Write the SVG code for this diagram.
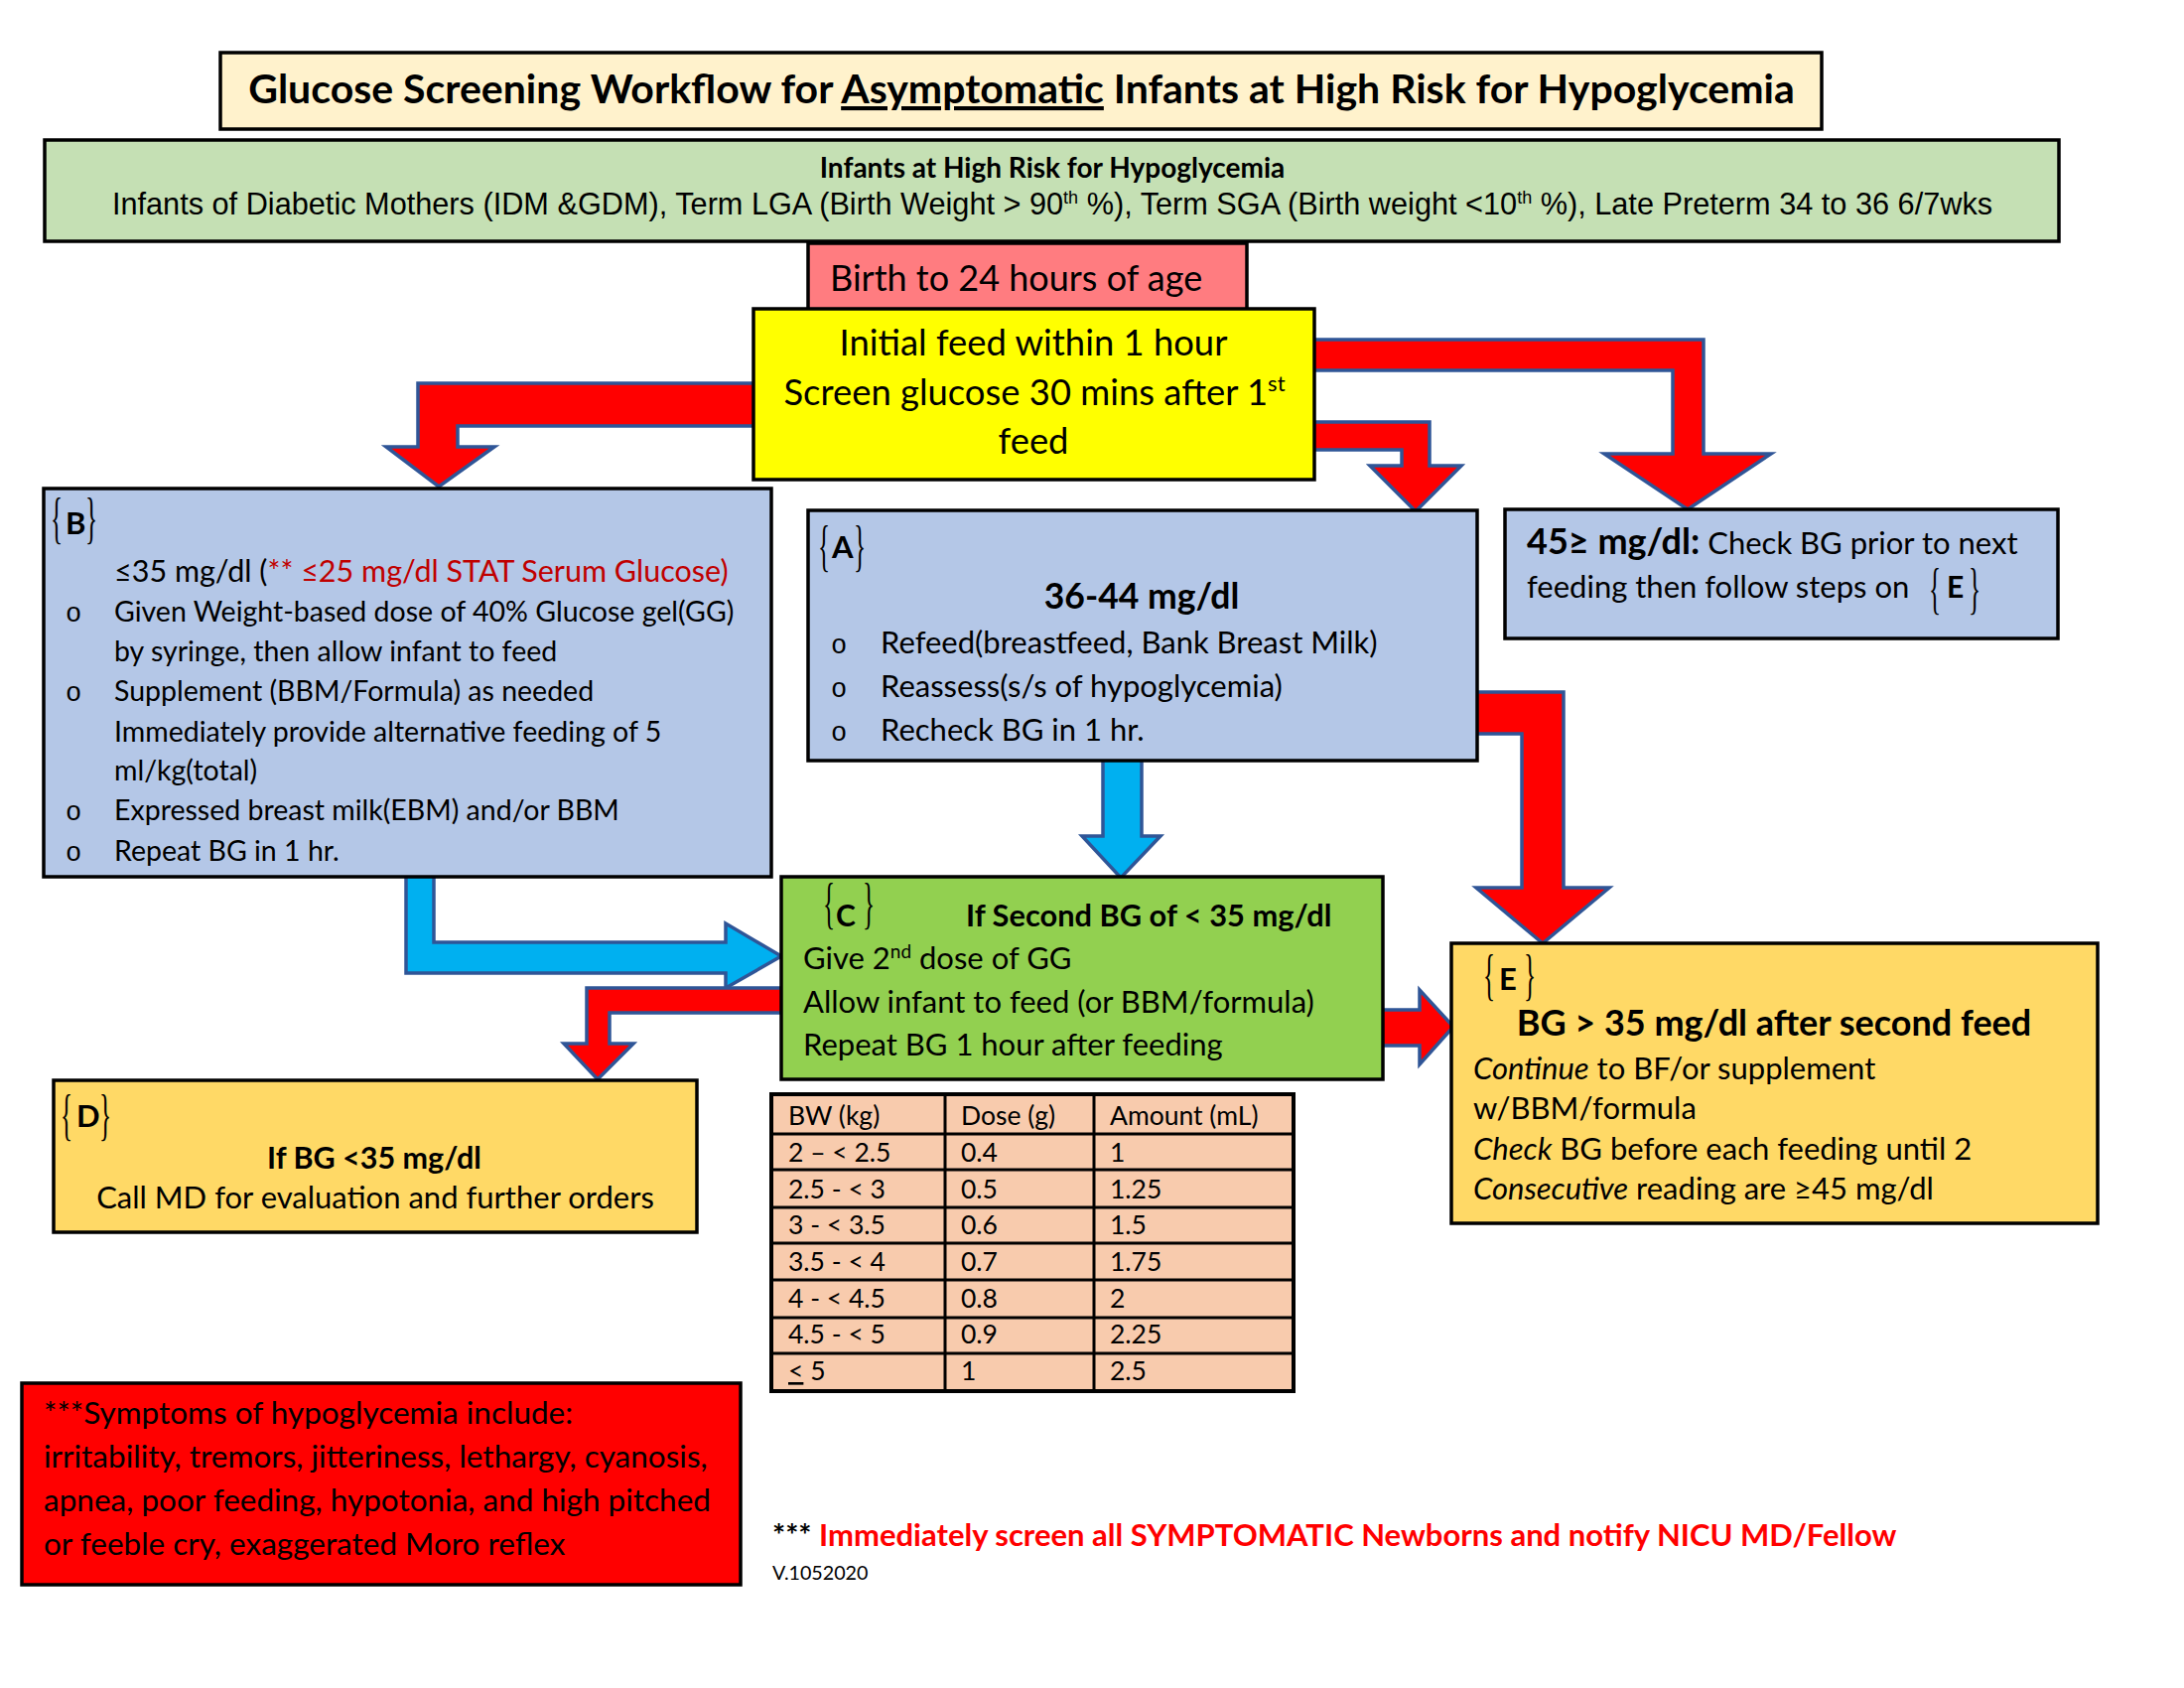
<svg xmlns="http://www.w3.org/2000/svg" width="2200" height="1700" viewBox="0 0 2200 1700">
<style>
.box{stroke:#000;stroke-width:3.5}
.red{fill:#FF0000;stroke:#2F5597;stroke-width:3.5;stroke-linejoin:miter}
.blue{fill:#00B0F0;stroke:#2F5597;stroke-width:3.5;stroke-linejoin:miter}
text{font-family:Lato,"Liberation Sans",sans-serif;fill:#000}
.b{font-weight:bold}
.bodyB{font-size:28.5px}
.body{font-size:31px}
.bul{font-family:"Liberation Mono",monospace;font-size:27px;text-anchor:middle}
.br{font-family:"Liberation Serif",serif;font-size:56px;font-weight:normal}
.tb{font-size:26.5px}
.mid{text-anchor:middle}
</style>
<rect width="2200" height="1700" fill="#fff"/>
<g id="connectors">
<polygon class="red" points="765,386 421,386 421,450 389,450 442,490 498,450 461,450 461,429 765,429"/>
<polygon class="red" points="1318,425 1440,425 1440,469 1472,469 1426,515 1380,469 1412,469 1412,453 1318,453"/>
<polygon class="red" points="1318,342 1716,342 1716,457 1784,457 1700,513 1616,457 1685,457 1685,373 1318,373"/>
<polygon class="red" points="1482,697 1575,697 1575,894 1621,894 1554,950 1487,894 1533,894 1533,739 1482,739"/>
<polygon class="blue" points="1111,762 1150,762 1150,842 1169,842 1129,884 1090,842 1111,842"/>
<polygon class="blue" points="409,878 437,878 437,949 731,949 731,930 787,963 731,995 731,980 409,980"/>
<polygon class="red" points="792,995 591,995 591,1051 568,1051 602,1087 638,1051 614,1051 614,1020 792,1020"/>
<polygon class="red" points="1388,1017 1430,1017 1430,997 1464,1034 1430,1072 1430,1053 1388,1053"/>
</g>
<g id="title">
<rect class="box" x="222" y="53" width="1613" height="77" fill="#FFF2CC"/>
<text class="b mid" x="1029" y="104" font-size="41">Glucose Screening Workflow for <tspan text-decoration="underline">Asymptomatic</tspan> Infants at High Risk for Hypoglycemia</text>
</g>
<g id="risk">
<rect class="box" x="45" y="141" width="2029" height="102" fill="#C5E0B4"/>
<text class="b mid" x="1060" y="179" font-size="28">Infants at High Risk for Hypoglycemia</text>
<text class="mid" x="1060" y="216" font-size="30.7" style="font-family:'Liberation Sans',Arial,sans-serif">Infants of Diabetic Mothers (IDM &amp;GDM), Term LGA (Birth Weight &gt; 90<tspan font-size="18" dy="-11">th</tspan><tspan dy="11"> %), Term SGA (Birth weight &lt;10</tspan><tspan font-size="18" dy="-11">th</tspan><tspan dy="11"> %), Late Preterm 34 to 36 6/7wks</tspan></text>
</g>
<g id="age">
<rect class="box" x="814" y="245" width="442" height="70" fill="#FF7C80"/>
<text x="836" y="293" font-size="36">Birth to 24 hours of age</text>
</g>
<g id="initial">
<rect class="box" x="759" y="311" width="565" height="172" fill="#FFFF00"/>
<text class="mid" x="1041" y="358" font-size="36.4">Initial feed within 1 hour</text>
<text class="mid" x="1042" y="408" font-size="36.4">Screen glucose 30 mins after 1<tspan font-size="22" dy="-14">st</tspan></text>
<text class="mid" x="1041" y="457" font-size="36.4">feed</text>
</g>
<g id="nodeB">
<rect class="box" x="44" y="492" width="733" height="391" fill="#B4C7E7"/>
<text class="br" transform="translate(57,541) scale(0.45,1)" text-anchor="middle">{</text>
<text class="b" x="66" y="538" font-size="31">B</text>
<text class="br" transform="translate(92,541) scale(0.45,1)" text-anchor="middle">}</text>
<text x="115" y="586" font-size="30.5">≤35 mg/dl (<tspan fill="#C00000">** ≤25 mg/dl STAT Serum Glucose)</tspan></text>
<text class="bul" x="74" y="626">o</text>
<text class="bodyB" x="115" y="626">Given Weight-based dose of 40% Glucose gel(GG)</text>
<text class="bodyB" x="115" y="666">by syringe, then allow infant to feed</text>
<text class="bul" x="74" y="706">o</text>
<text class="bodyB" x="115" y="706">Supplement (BBM/Formula) as needed</text>
<text class="bodyB" x="115" y="747">Immediately provide alternative feeding of 5</text>
<text class="bodyB" x="115" y="786">ml/kg(total)</text>
<text class="bul" x="74" y="826">o</text>
<text class="bodyB" x="115" y="826">Expressed breast milk(EBM) and/or BBM</text>
<text class="bul" x="74" y="867">o</text>
<text class="bodyB" x="115" y="867">Repeat BG in 1 hr.</text>
</g>
<g id="nodeA">
<rect class="box" x="814" y="514" width="674" height="252" fill="#B4C7E7"/>
<text class="br" transform="translate(830,569) scale(0.45,1)" text-anchor="middle">{</text>
<text class="b" x="838" y="562" font-size="31">A</text>
<text class="br" transform="translate(866,569) scale(0.45,1)" text-anchor="middle">}</text>
<text class="b mid" x="1150" y="613" font-size="35.5">36-44 mg/dl</text>
<text class="bul" x="845" y="658">o</text>
<text class="body" x="887" y="658">Refeed(breastfeed, Bank Breast Milk)</text>
<text class="bul" x="845" y="702">o</text>
<text class="body" x="887" y="702">Reassess(s/s of hypoglycemia)</text>
<text class="bul" x="845" y="746">o</text>
<text class="body" x="887" y="746">Recheck BG in 1 hr.</text>
</g>
<g id="node45">
<rect class="box" x="1516" y="513" width="557" height="130" fill="#B4C7E7"/>
<text x="1538" y="558" font-size="31"><tspan class="b" font-size="36">45≥ mg/dl:</tspan> Check BG prior to next</text>
<text x="1538" y="602" font-size="31">feeding then follow steps on</text>
<text class="br" transform="translate(1949,612) scale(0.45,1)" text-anchor="middle">{</text>
<text class="b" x="1961" y="602" font-size="30">E</text>
<text class="br" transform="translate(1989,612) scale(0.45,1)" text-anchor="middle">}</text>
</g>
<g id="nodeC">
<rect class="box" x="787" y="883" width="606" height="204" fill="#92D050"/>
<text class="br" transform="translate(835,929) scale(0.45,1)" text-anchor="middle">{</text>
<text class="b" x="842" y="933" font-size="30">C</text>
<text class="br" transform="translate(875,929) scale(0.45,1)" text-anchor="middle">}</text>
<text class="b" x="973" y="933" font-size="30.8">If Second BG of &lt; 35 mg/dl</text>
<text class="body" x="809" y="976">Give 2<tspan font-size="19" dy="-11">nd</tspan><tspan dy="11"> dose of GG</tspan></text>
<text class="body" x="809" y="1020">Allow infant to feed (or BBM/formula)</text>
<text class="body" x="809" y="1063">Repeat BG 1 hour after feeding</text>
</g>
<g id="nodeD">
<rect class="box" x="54" y="1088" width="648" height="153" fill="#FFD966"/>
<text class="br" transform="translate(67,1142) scale(0.45,1)" text-anchor="middle">{</text>
<text class="b" x="77" y="1135" font-size="31">D</text>
<text class="br" transform="translate(106,1142) scale(0.45,1)" text-anchor="middle">}</text>
<text class="b mid" x="377" y="1177" font-size="30.5">If BG &lt;35 mg/dl</text>
<text class="body mid" x="378" y="1217">Call MD for evaluation and further orders</text>
</g>
<g id="nodeE">
<rect class="box" x="1462" y="950" width="651" height="282" fill="#FFD966"/>
<text class="br" transform="translate(1500,1001) scale(0.45,1)" text-anchor="middle">{</text>
<text class="b" x="1510" y="997" font-size="31">E</text>
<text class="br" transform="translate(1541,1001) scale(0.45,1)" text-anchor="middle">}</text>
<text class="b mid" x="1787" y="1043" font-size="36">BG &gt; 35 mg/dl after second feed</text>
<text class="body" x="1484" y="1087"><tspan font-style="italic">Continue</tspan> to BF/or supplement</text>
<text class="body" x="1484" y="1127">w/BBM/formula</text>
<text class="body" x="1484" y="1168"><tspan font-style="italic">Check</tspan> BG before each feeding until 2</text>
<text class="body" x="1484" y="1208"><tspan font-style="italic">Consecutive</tspan> reading are ≥45 mg/dl</text>
</g>
<g id="doseTable">
<rect x="777" y="1102" width="526" height="299" fill="#F8CBAD" stroke="#000" stroke-width="4"/>
<g stroke="#000" stroke-width="3">
<line x1="952" y1="1102" x2="952" y2="1401"/>
<line x1="1102" y1="1102" x2="1102" y2="1401"/>
<line x1="777" y1="1142" x2="1303" y2="1142"/>
<line x1="777" y1="1178" x2="1303" y2="1178"/>
<line x1="777" y1="1216" x2="1303" y2="1216"/>
<line x1="777" y1="1252" x2="1303" y2="1252"/>
<line x1="777" y1="1289" x2="1303" y2="1289"/>
<line x1="777" y1="1327" x2="1303" y2="1327"/>
<line x1="777" y1="1363" x2="1303" y2="1363"/>
</g>
<g>
<text class="tb" x="794" y="1133">BW (kg)</text><text class="tb" x="968" y="1133">Dose (g)</text><text class="tb" x="1118" y="1133">Amount (mL)</text>
<text class="tb" x="794" y="1170">2 – &lt; 2.5</text><text class="tb" x="968" y="1170">0.4</text><text class="tb" x="1118" y="1170">1</text>
<text class="tb" x="794" y="1207">2.5 - &lt; 3</text><text class="tb" x="968" y="1207">0.5</text><text class="tb" x="1118" y="1207">1.25</text>
<text class="tb" x="794" y="1243">3 - &lt; 3.5</text><text class="tb" x="968" y="1243">0.6</text><text class="tb" x="1118" y="1243">1.5</text>
<text class="tb" x="794" y="1280">3.5 - &lt; 4</text><text class="tb" x="968" y="1280">0.7</text><text class="tb" x="1118" y="1280">1.75</text>
<text class="tb" x="794" y="1317">4 - &lt; 4.5</text><text class="tb" x="968" y="1317">0.8</text><text class="tb" x="1118" y="1317">2</text>
<text class="tb" x="794" y="1353">4.5 - &lt; 5</text><text class="tb" x="968" y="1353">0.9</text><text class="tb" x="1118" y="1353">2.25</text>
<text class="tb" x="794" y="1390"><tspan text-decoration="underline">&lt;</tspan> 5</text><text class="tb" x="968" y="1390">1</text><text class="tb" x="1118" y="1390">2.5</text>
</g>
</g>
<g id="symptoms">
<rect class="box" x="22" y="1393" width="724" height="203" fill="#FF0000"/>
<text x="44" y="1434" font-size="31.5">***Symptoms of hypoglycemia include:</text>
<text x="44" y="1478" font-size="31.5">irritability, tremors, jitteriness, lethargy, cyanosis,</text>
<text x="44" y="1522" font-size="31.5">apnea, poor feeding, hypotonia, and high pitched</text>
<text x="44" y="1566" font-size="31.5">or feeble cry, exaggerated Moro reflex</text>
</g>
<g id="notes">
<text class="b" x="778" y="1557" font-size="31">*** <tspan fill="#FF0000">Immediately screen all SYMPTOMATIC Newborns and notify NICU MD/Fellow</tspan></text>
<text x="778" y="1591" font-size="19.7">V.1052020</text>
</g>
</svg>
